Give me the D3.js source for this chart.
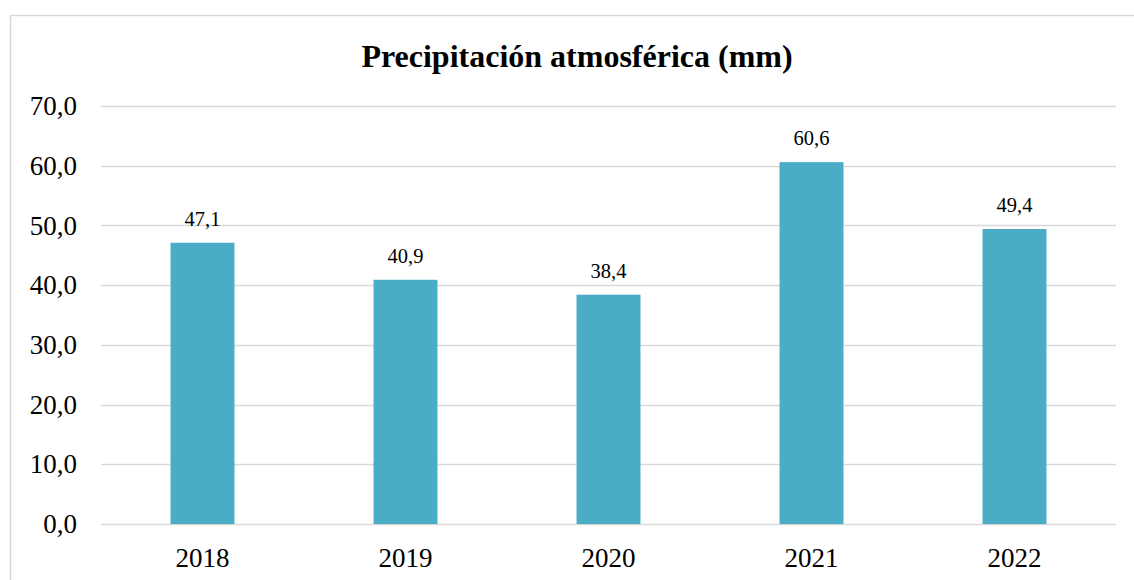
<!DOCTYPE html>
<html>
<head>
<meta charset="utf-8">
<script src="https://cdn.jsdelivr.net/npm/d3@7"></script>
<style>
  body { margin: 0; background: #fff; }
  svg text { font-family: "Liberation Serif", "Times New Roman", serif; fill: #000; }
</style>
</head>
<body>
<div id="chart"></div>
<script>
var years = ['2018', '2019', '2020', '2021', '2022'];
var precip = [47.1, 40.9, 38.4, 60.6, 49.4];
var yTicks = [0, 10, 20, 30, 40, 50, 60, 70];
var chartTitle = 'Precipitación atmosférica (mm)';

var W = 1134, H = 580;
var plotLeft = 101, plotRight = 1116, plotTop = 106, plotBottom = 524;

var svg = d3.select('#chart')
    .append('svg')
    .attr('width', W)
    .attr('height', H);

// outer chart frame
svg.append('rect')
    .attr('x', 10.5).attr('y', 15.5)
    .attr('width', 1140).attr('height', 600)
    .attr('fill', 'none')
    .attr('stroke', '#d9d9d9')
    .attr('stroke-width', 1.5);

var x = d3.scaleBand()
    .domain(years)
    .range([plotLeft, plotRight])
    .paddingInner(0.685)
    .paddingOuter(0.3425);

var y = d3.scaleLinear()
    .domain([0, 70])
    .range([plotBottom, plotTop]);

var fmt = function(v) { return d3.format('.1f')(v).replace('.', ','); };

// gridlines
svg.append('g')
    .selectAll('line')
    .data(yTicks)
    .enter().append('line')
    .attr('x1', plotLeft).attr('x2', plotRight)
    .attr('y1', function(d) { return Math.round(y(d)) + 0.5; })
    .attr('y2', function(d) { return Math.round(y(d)) + 0.5; })
    .attr('stroke', '#d9d9d9')
    .attr('stroke-width', 1.5);

// y axis labels
var yAxis = svg.append('g')
    .attr('transform', 'translate(' + (plotLeft - 24) + ',0)')
    .call(d3.axisLeft(y).tickValues(yTicks).tickFormat(fmt).tickSize(0).tickPadding(0));
yAxis.select('.domain').remove();
yAxis.selectAll('text')
    .attr('font-size', 27)
    .attr('dy', '0.32em')
    .style('font-family', '"Liberation Serif", serif');

// x axis labels
var xAxis = svg.append('g')
    .attr('transform', 'translate(0,' + plotBottom + ')')
    .call(d3.axisBottom(x).tickSize(0).tickPadding(0));
xAxis.select('.domain').remove();
xAxis.selectAll('text')
    .attr('font-size', 27)
    .attr('y', 43)
    .attr('dy', 0)
    .style('font-family', '"Liberation Serif", serif');

// bars
svg.append('g')
    .selectAll('rect')
    .data(precip)
    .enter().append('rect')
    .attr('x', function(d, i) { return x(years[i]); })
    .attr('y', function(d) { return y(d); })
    .attr('width', x.bandwidth())
    .attr('height', function(d) { return plotBottom - y(d); })
    .attr('fill', '#4bacc6');

// value labels
svg.append('g')
    .selectAll('text')
    .data(precip)
    .enter().append('text')
    .attr('x', function(d, i) { return x(years[i]) + x.bandwidth() / 2; })
    .attr('y', function(d) { return y(d) - 17; })
    .attr('text-anchor', 'middle')
    .attr('font-size', 20.5)
    .text(fmt);

svg.append('text')
    .attr('x', 577)
    .attr('y', 67)
    .attr('text-anchor', 'middle')
    .attr('font-size', 32)
    .attr('font-weight', 'bold')
    .text(chartTitle);
</script>
</body>
</html>
